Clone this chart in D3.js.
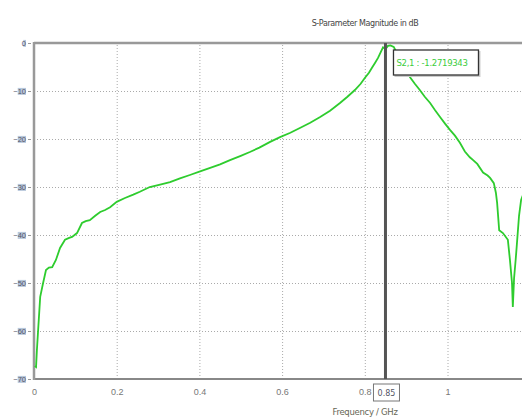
<!DOCTYPE html>
<html>
<head>
<meta charset="utf-8">
<script src="https://cdn.jsdelivr.net/npm/d3@7"></script>
<style>
    body { margin: 0; background: #fff; overflow: hidden; }
    svg { font-family: "DejaVu Sans", sans-serif; }
    .grid line { stroke: #aaa; stroke-dasharray: 1,2; }
    .grid path { display: none; }
</style>
</head>
<body>
<svg id="chart"></svg>
<script>
// S21 magnitude
const freq = [0.002,0.005,0.007,0.01,0.015,0.022,0.029,0.036,0.044,0.053,0.063,0.075,0.085,0.092,0.104,0.116,0.125,0.135,0.148,0.16,0.172,0.184,0.2,0.22,0.24,0.256,0.28,0.305,0.329,0.353,0.377,0.4,0.426,0.45,0.474,0.5,0.522,0.545,0.571,0.595,0.62,0.643,0.668,0.692,0.716,0.74,0.758,0.776,0.79,0.8,0.81,0.817,0.825,0.832,0.838,0.844,0.85,0.856,0.862,0.87,0.88,0.895,0.909,0.921,0.933,0.945,0.958,0.97,0.982,0.994,1.006,1.018,1.03,1.042,1.054,1.062,1.072,1.086,1.097,1.103,1.112,1.117,1.12,1.125,1.134,1.146,1.151,1.156,1.158,1.161,1.165,1.168,1.173,1.178,1.19,1.2];
const magDb = [-67.3,-67.5,-64,-59.8,-52.9,-50,-47.3,-46.8,-46.7,-45.2,-42.7,-41,-40.6,-40.4,-39.6,-37.5,-37.1,-36.9,-36,-35.2,-34.8,-34.2,-33.1,-32.3,-31.6,-31,-30,-29.5,-29,-28.2,-27.5,-26.8,-26,-25.3,-24.4,-23.5,-22.7,-21.8,-20.6,-19.6,-18.7,-17.7,-16.6,-15.4,-14.1,-12.5,-11.2,-9.8,-8.5,-7.3,-6.2,-5.2,-4.1,-3.1,-2,-0.9,-1.27,-0.6,-0.5,-0.8,-2.5,-4.8,-7.1,-8.5,-9.8,-11.2,-12.5,-14,-15.4,-16.8,-18.1,-19.3,-20.8,-22.6,-23.8,-24.4,-25.2,-27,-27.6,-28.1,-29.2,-31.2,-33.3,-39,-39.6,-41,-45.2,-50,-55,-49,-45,-41.7,-36,-32.7,-30,-28.5];

const xTicks = [0, 0.2, 0.4, 0.6, 0.8, 1];
const yTicks = [0, -10, -20, -30, -40, -50, -60, -70];
const markerFreq = 0.85;
const markerText = 'S2,1 : -1.2719343';

const width = 522, height = 417;
const svg = d3.select('#chart').attr('width', width).attr('height', height);

const x = d3.scaleLinear().domain([0, 1.2]).range([34, 530.2]);
const y = d3.scaleLinear().domain([-70, 0]).range([379, 43]);

// grid
svg.append('g')
    .attr('class', 'grid')
    .attr('transform', 'translate(0,379)')
    .call(d3.axisBottom(x).tickValues(xTicks.slice(1)).tickSize(-336).tickFormat(''));
svg.append('g')
    .attr('class', 'grid')
    .attr('transform', 'translate(34,0)')
    .call(d3.axisLeft(y).tickValues(yTicks.slice(1, -1)).tickSize(-500).tickFormat(''));

// frame
svg.append('line').attr('x1', 34).attr('x2', width).attr('y1', 43).attr('y2', 43)
    .attr('stroke', '#999').attr('stroke-width', 2.5);
svg.append('line').attr('x1', 34).attr('x2', width).attr('y1', 379).attr('y2', 379)
    .attr('stroke', '#888').attr('stroke-width', 2);
svg.append('line').attr('x1', 34).attr('x2', 34).attr('y1', 42).attr('y2', 380)
    .attr('stroke', '#999').attr('stroke-width', 2.5);

// y tick labels
const yLab = svg.append('g').attr('transform', 'translate(31,0)')
    .call(d3.axisLeft(y).tickValues(yTicks).tickSize(3).tickPadding(2).tickFormat(d3.format('d')));
yLab.select('.domain').remove();
yLab.selectAll('line').attr('stroke', '#999');
yLab.selectAll('text').attr('font-size', 7.5).attr('fill', '#556').each(function () {
    const b = this.getBBox();
    d3.select(this.parentNode).insert('rect', 'text')
        .attr('x', b.x + b.width * 0.35).attr('y', b.y + 1)
        .attr('width', b.width * 0.65).attr('height', b.height - 2)
        .attr('fill', '#b8c8dc');
});

// x tick labels
const xLab = svg.append('g').attr('transform', 'translate(0,379)')
    .call(d3.axisBottom(x).tickValues(xTicks).tickSize(0).tickPadding(10).tickFormat(d => d === 0 || d === 1 ? d : d3.format('.1f')(d)));
xLab.select('.domain').remove();
xLab.selectAll('text').attr('font-size', 9).attr('fill', '#777');

// curve
const line = d3.line().x((d, i) => x(freq[i])).y(d => y(d));
svg.append('path')
    .datum(magDb)
    .attr('d', line)
    .attr('fill', 'none')
    .attr('stroke', '#2ecc2e')
    .attr('stroke-width', 1.8);

// marker
const mx = x(markerFreq);
svg.append('line').attr('x1', mx).attr('x2', mx).attr('y1', 43).attr('y2', 379)
    .attr('stroke', '#555').attr('stroke-width', 3);

svg.append('rect').attr('x', mx + 9).attr('y', 51).attr('width', 86).attr('height', 26)
    .attr('fill', '#ccc');
svg.append('rect').attr('x', mx + 8).attr('y', 50).attr('width', 85).attr('height', 25)
    .attr('fill', '#fff').attr('stroke', '#333').attr('stroke-width', 1.3);
svg.append('text').attr('x', mx + 11).attr('y', 66)
    .attr('font-size', 8.5).attr('fill', '#3ccc3c').attr('letter-spacing', -0.3)
    .text(markerText);

svg.append('rect').attr('x', mx - 12).attr('y', 384).attr('width', 26).attr('height', 17)
    .attr('fill', '#fff').attr('stroke', '#777').attr('stroke-width', 1);
svg.append('text').attr('x', mx + 1).attr('y', 396).attr('text-anchor', 'middle')
    .attr('font-size', 8).attr('fill', '#556').text(markerFreq);

// titles
svg.append('text').attr('x', 365).attr('y', 26).attr('text-anchor', 'middle')
    .attr('font-size', 8).attr('fill', '#444').attr('letter-spacing', -0.4)
    .text('S-Parameter Magnitude in dB');
svg.append('text').attr('x', 365).attr('y', 415).attr('text-anchor', 'middle')
    .attr('font-size', 8.5).attr('fill', '#665').attr('letter-spacing', -0.3)
    .text('Frequency / GHz');
</script>
</body>
</html>
